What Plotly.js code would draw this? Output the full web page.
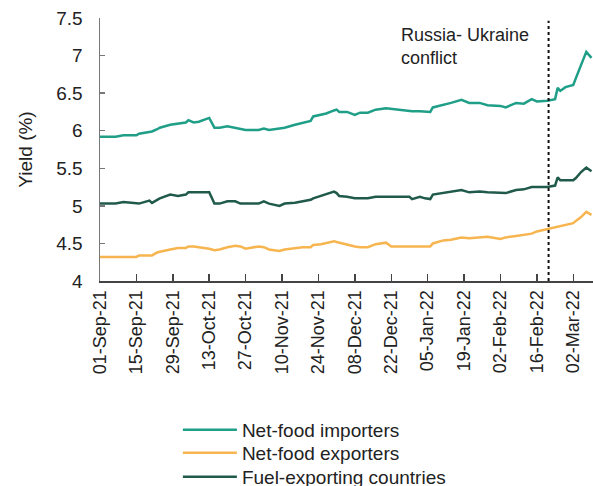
<!DOCTYPE html>
<html>
<head>
<meta charset="utf-8">
<script src="https://cdn.plot.ly/plotly-3.0.1.min.js"></script>
<style>
  html, body { margin: 0; padding: 0; background: #fff; }
  #chart { width: 593px; height: 486px; }
</style>
</head>
<body>
<div id="chart"></div>
<script>
const dates = [
  "2021-09-01","2021-09-07","2021-09-10","2021-09-15","2021-09-16","2021-09-20","2021-09-21","2021-09-23","2021-09-24","2021-09-28",
  "2021-10-01","2021-10-04","2021-10-05","2021-10-07","2021-10-09","2021-10-12","2021-10-13","2021-10-15","2021-10-17","2021-10-20",
  "2021-10-23","2021-10-25","2021-10-27","2021-11-01","2021-11-03","2021-11-05","2021-11-09","2021-11-11","2021-11-15","2021-11-18",
  "2021-11-21","2021-11-22","2021-11-25","2021-11-27","2021-11-30","2021-12-01","2021-12-02","2021-12-05","2021-12-08","2021-12-10",
  "2021-12-13","2021-12-16","2021-12-20","2021-12-22","2021-12-24","2021-12-29","2021-12-30","2022-01-02","2022-01-04","2022-01-06",
  "2022-01-07","2022-01-11","2022-01-14","2022-01-18","2022-01-21","2022-01-25","2022-01-28","2022-02-02","2022-02-04","2022-02-08",
  "2022-02-11","2022-02-14","2022-02-16","2022-02-20","2022-02-23","2022-02-24","2022-02-25","2022-02-27","2022-03-02","2022-03-03",
  "2022-03-05","2022-03-07","2022-03-09"
];
const netFoodImporters = [
  5.92,5.92,5.94,5.94,5.96,5.99,5.99,6.02,6.04,6.08,
  6.10,6.11,6.14,6.11,6.12,6.16,6.17,6.04,6.04,6.06,
  6.04,6.03,6.01,6.01,6.03,6.01,6.03,6.04,6.08,6.11,
  6.13,6.19,6.21,6.23,6.27,6.28,6.25,6.25,6.21,6.24,
  6.24,6.28,6.30,6.29,6.29,6.26,6.26,6.26,6.25,6.25,
  6.31,6.34,6.37,6.41,6.37,6.37,6.34,6.33,6.31,6.37,
  6.36,6.42,6.39,6.40,6.42,6.57,6.53,6.58,6.61,6.70,
  6.88,7.05,6.97
];
const netFoodExporters = [
  4.32,4.32,4.32,4.32,4.34,4.34,4.34,4.38,4.39,4.42,
  4.44,4.44,4.46,4.46,4.45,4.44,4.43,4.41,4.42,4.45,
  4.47,4.46,4.43,4.46,4.45,4.42,4.40,4.42,4.44,4.45,
  4.45,4.48,4.49,4.51,4.53,4.52,4.51,4.49,4.46,4.45,
  4.45,4.49,4.51,4.46,4.46,4.46,4.46,4.46,4.46,4.46,
  4.50,4.54,4.55,4.58,4.57,4.58,4.59,4.56,4.58,4.60,
  4.61,4.63,4.66,4.69,4.72,4.73,4.73,4.75,4.77,4.80,
  4.85,4.92,4.88
];
const fuelExporting = [
  5.03,5.03,5.05,5.03,5.03,5.07,5.04,5.08,5.10,5.15,
  5.13,5.15,5.18,5.18,5.18,5.18,5.18,5.03,5.03,5.06,
  5.06,5.03,5.03,5.03,5.06,5.03,5.00,5.03,5.04,5.06,
  5.08,5.10,5.13,5.15,5.19,5.17,5.13,5.12,5.10,5.10,
  5.10,5.12,5.12,5.12,5.12,5.12,5.09,5.12,5.10,5.09,
  5.15,5.17,5.18,5.21,5.18,5.19,5.18,5.17,5.17,5.21,
  5.22,5.25,5.25,5.25,5.27,5.38,5.34,5.34,5.34,5.37,
  5.45,5.51,5.46
];
const seriesNames = ["Net-food importers","Net-food exporters","Fuel-exporting countries"];
const seriesColors = ["#1f9e88","#f7b550","#205a4b"];
const conflictDate = "2022-02-20 12:00";
const conflictLabel = "Russia- Ukraine<br>conflict";
const xRange = ["2021-09-01","2022-03-09 14:00"];
const yRange = [4, 7.5];

const font = "Liberation Sans, Arial, sans-serif";
const values = [netFoodImporters, netFoodExporters, fuelExporting];
const legendIds = ["legend", "legend2", "legend3"];
const legendY = [-0.5665, -0.654, -0.745];

const traces = values.map((v, i) => ({
  x: dates, y: v, type: "scatter", mode: "lines", name: seriesNames[i],
  legend: legendIds[i],
  line: { color: seriesColors[i], width: 2.5 }
}));

const layout = {
  width: 593, height: 486,
  margin: { l: 100, r: 0, t: 18, b: 205, autoexpand: false },
  paper_bgcolor: "#fff", plot_bgcolor: "#fff",
  font: { family: font, size: 17, color: "#222" },
  showlegend: true,
  xaxis: {
    type: "date", range: xRange,
    tick0: "2021-09-01", dtick: 14 * 86400000,
    tickformat: "%d-%b-%y", tickangle: -90,
    ticks: "inside", ticklen: 7, tickwidth: 1.5, tickcolor: "#444",
    showline: true, linecolor: "#444", linewidth: 2,
    showgrid: false, zeroline: false,
    tickfont: { family: font, size: 18, color: "#222" },
    ticklabelstandoff: 0
  },
  yaxis: {
    range: yRange, dtick: 0.5,
    ticks: "inside", ticklen: 5, tickwidth: 1.5, tickcolor: "#777",
    showline: true, linecolor: "#777", linewidth: 1.5,
    showgrid: false, zeroline: false,
    tickfont: { family: font, size: 19, color: "#222" },
    ticklabelstandoff: 12,
    title: { text: "Yield (%)", font: { family: font, size: 19, color: "#222" }, standoff: 18 }
  },
  shapes: [{
    type: "line", xref: "x", yref: "paper",
    x0: conflictDate, x1: conflictDate, y0: 0, y1: 0.99,
    line: { color: "#111", width: 2, dash: "dot" }
  }],
  annotations: [{
    x: "2021-12-25", y: 7.12, xref: "x", yref: "y",
    text: conflictLabel, showarrow: false,
    xanchor: "left", yanchor: "middle", align: "left",
    font: { family: font, size: 18, color: "#222" }
  }]
};
legendIds.forEach((id, i) => {
  layout[id] = {
    x: 0.158, xanchor: "left", y: legendY[i], yanchor: "middle",
    font: { family: font, size: 19, color: "#222" },
    itemwidth: 54, bgcolor: "rgba(0,0,0,0)", borderwidth: 0
  };
});

Plotly.newPlot("chart", traces, layout, { displayModeBar: false, staticPlot: true });
</script>
</body>
</html>
